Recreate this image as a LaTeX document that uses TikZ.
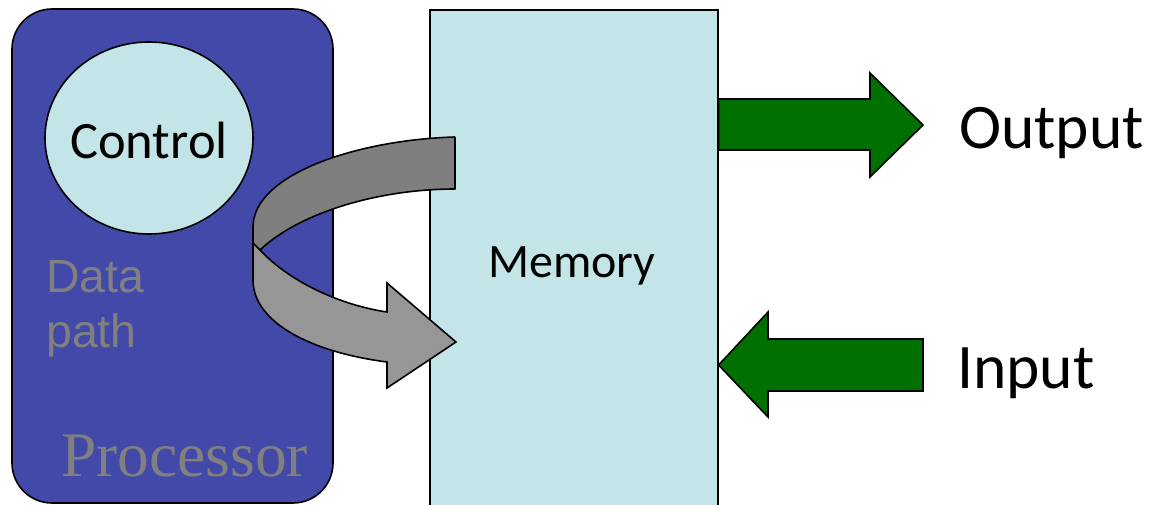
\documentclass[tikz,border=0pt]{standalone}
\usepackage{fontspec}
\usetikzlibrary{shapes.geometric}
\setmainfont{Carlito}
\newfontfamily\arialfont{Liberation Sans}
\newfontfamily\timesfont{Liberation Serif}
\definecolor{procblue}{RGB}{66,73,168}
\definecolor{paleblue}{RGB}{195,229,231}
\definecolor{iogreen}{RGB}{0,112,0}
\definecolor{darkband}{RGB}{127,127,127}
\definecolor{lightband}{RGB}{150,150,150}
\definecolor{labelgray}{RGB}{128,128,128}
\tikzset{
  outline/.style={draw=black, line width=1.6pt, line join=miter},
  label text/.style={inner sep=0pt, anchor=base west},
  blockarrow/.style={outline, fill=iogreen},
}
\begin{document}
\begin{tikzpicture}[x=1pt, y=-1pt]
\useasboundingbox (0,0) rectangle (1151,505);
\clip (0,0) rectangle (1151,505);

% processor block
\node[outline, fill=procblue, rounded corners=40pt, minimum width=321pt,
      minimum height=494pt, inner sep=0pt] (proc) at (172.5,256) {};

% control unit
\node[outline, fill=paleblue, ellipse, minimum width=208pt, minimum height=192pt,
      inner sep=0pt] (ctrl) at (149,138) {};
\node[inner sep=0pt, anchor=base, font=\fontsize{52.5}{52.5}\selectfont] (ctrltext)
      at (149,159) {Control};

% datapath and processor labels
\node[label text, text=labelgray, font=\arialfont\fontsize{46.5}{46.5}\selectfont]
      (data) at (46,292) {Data};
\node[label text, text=labelgray, font=\arialfont\fontsize{46.5}{46.5}\selectfont]
      (path) at (46,347) {path};
\node[label text, text=labelgray, font=\timesfont\fontsize{63.5}{63.5}\selectfont]
      (proctext) at (61,476) {Processor};

% memory block
\node[outline, fill=paleblue, minimum width=288pt, minimum height=510pt,
      inner sep=0pt, anchor=north west] (mem) at (429,9) {};
\node[inner sep=0pt, anchor=base, font=\fontsize{48}{48}\selectfont] (memtext)
      at (572,277) {Memory};

% twisted transfer arrow between processor and memory
\fill[darkband] (455,137) .. controls (355,140) and (253,175) .. (253,227)
  -- (253,243) -- (260,250) .. controls (300,212) and (380,189) .. (455,189) -- cycle;
\draw[line width=1.6pt, line join=round] (455,137) .. controls (355,140) and (253,175) .. (253,227)
  -- (253,243) (260,250) .. controls (300,212) and (380,189) .. (455,189) -- (455,137);
\filldraw[fill=lightband, draw=black, line width=1.6pt, line join=miter]
  (260,250) .. controls (290,282) and (340,305) .. (387,312)
  -- (387,283) -- (456,342) -- (387,388) -- (387,362)
  .. controls (310,352) and (253,322) .. (253,280) -- (253,243) -- cycle;

% output and input arrows
\draw[blockarrow] (mem.east |- 0,99) coordinate (outtail) -- (870,99) -- (870,73)
  -- (923,125) coordinate (outtip) -- (870,177) -- (870,150) -- (outtail |- 0,150) -- cycle;
\draw[blockarrow] (mem.east |- 0,365) coordinate (intip) -- (768,312) -- (768,339)
  -- (923,339) -- (923,391) -- (768,391) -- (768,417) -- cycle;

\node[label text, font=\fontsize{63.5}{63.5}\selectfont] (outtext) at (959,149) {Output};
\node[label text, font=\fontsize{63.5}{63.5}\selectfont] (intext) at (957,388) {Input};
\end{tikzpicture}
\end{document}
